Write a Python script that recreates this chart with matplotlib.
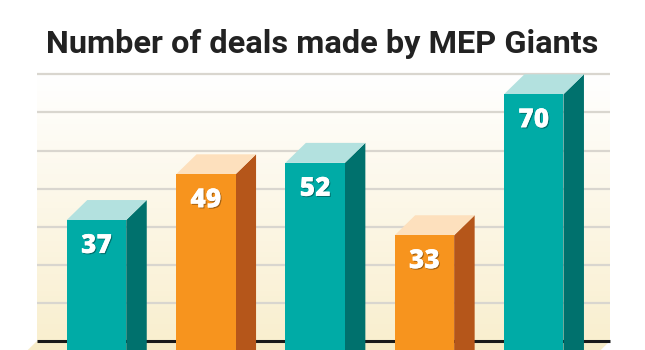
import matplotlib
matplotlib.use("Agg")
import matplotlib.pyplot as plt
import numpy as np
from matplotlib.patches import Polygon
import matplotlib.patheffects as pe

# ---- data ----
title = "Number of deals made by MEP Giants"
values = [37, 49, 52, 33, 70]
bar_kinds = ["teal", "orange", "teal", "orange", "teal"]
grid_values = [0, 10, 20, 30, 40, 50, 60, 70]

# ---- styles ----
colors = {
    "teal": {"front": "#00aba6", "side": "#00716d", "top": "#b3e1df"},
    "orange": {"front": "#f7941e", "side": "#b5561a", "top": "#fde0bd"},
}

W, H = 6.45, 3.5
fig = plt.figure(figsize=(W, H), dpi=100)
ax = fig.add_axes([0, 0, 1, 1])

px_per_x = 109.3
px_per_y = 3.81
x0_px = 96.5
zero_px = 361
ax.set_xlim(-x0_px / px_per_x, (645 - x0_px) / px_per_x)
ax.set_ylim((zero_px - 350) / px_per_y, zero_px / px_per_y)
ax.axis("off")

w = 59.5 / px_per_x
dx = 20.5 / px_per_x
dy = 20.0 / px_per_y

wall_l = (37 - x0_px) / px_per_x
wall_r = (610 - x0_px) / px_per_x
wall_top = grid_values[-1] + dy

# floor (parallelogram in front of the wall base)
t = (dy + 3) / dy
floor = Polygon([(wall_l - dx * t, dy - dy * t), (wall_r - dx * t, dy - dy * t),
                 (wall_r, dy), (wall_l, dy)],
                closed=True, facecolor="#f7ecc8", edgecolor="none", zorder=1)
ax.add_patch(floor)

# wall gradient
grad = np.linspace(0, 1, 256).reshape(-1, 1)
top_c = np.array([1.0, 1.0, 1.0])
bot_c = np.array(matplotlib.colors.to_rgb("#f9efcf"))
img = top_c[None, None, :] * (1 - grad[..., None]) + bot_c[None, None, :] * grad[..., None]
img = img[::-1]
ax.imshow(img, extent=[wall_l, wall_r, dy, wall_top], aspect="auto", origin="lower",
          zorder=1.5, interpolation="bilinear")

# gridlines
for g in grid_values[1:]:
    ax.hlines(g + dy, wall_l, wall_r, colors="#d9d6cf", linewidth=1.6, zorder=2)
ax.hlines(dy, wall_l, wall_r, colors="#1a1a1a", linewidth=2.2, zorder=2.5)

# bars
xs = np.arange(len(values))
for x, v, k in zip(xs, values, bar_kinds):
    c = colors[k]
    ax.bar(x, v, width=w, bottom=0, color=c["front"], zorder=4, linewidth=0)
    xl, xr = x - w / 2, x + w / 2
    ax.add_patch(Polygon([(xr, -10), (xr + dx, -10 + dy), (xr + dx, v + dy), (xr, v)],
                         closed=True, facecolor=c["side"], edgecolor="none", zorder=3.9))
    ax.add_patch(Polygon([(xl, v), (xr, v), (xr + dx, v + dy), (xl + dx, v + dy)],
                         closed=True, facecolor=c["top"], edgecolor="none", zorder=3.9))
    ax.text(x, v - 26 / px_per_y, str(v), ha="center", va="center", color="white",
            fontsize=19, fontweight="heavy", family=["Open Sans", "DejaVu Sans"], zorder=5,
            path_effects=[pe.withSimplePatchShadow(offset=(0.8, -0.8), shadow_rgbFace="#000000", alpha=0.35),
                          pe.Normal()])

# title, fitted to width
tt = fig.text(0.5, 1 - 44 / 350, title, ha="center", va="center", fontsize=24,
              fontweight="bold", family=["Roboto", "DejaVu Sans"], color="#222222")
fig.canvas.draw()
bb = tt.get_window_extent()
tt.set_fontsize(24 * 552 / bb.width)

fig.savefig("out.png", dpi=100)
